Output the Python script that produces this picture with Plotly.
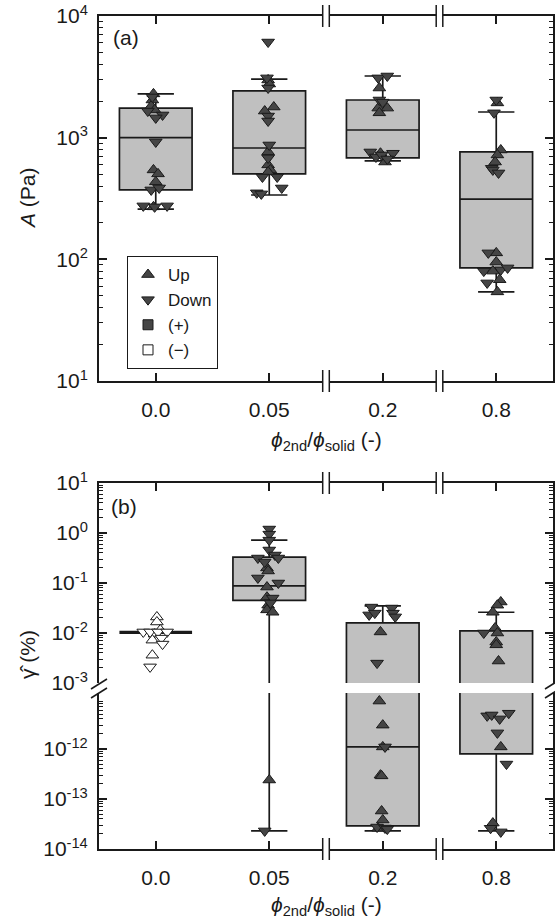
import plotly.graph_objects as go

# ---------------- data ----------------
CATS = ["0.0", "0.05", "0.2", "0.8"]
CAT_POS = [0, 1, 2, 3]

# panel (a): box statistics, A (Pa)
A_LO = [259, 338, 644, 54]
A_Q1 = [372, 504, 681, 85]
A_MED = [1000, 822, 1156, 313]
A_Q3 = [1750, 2420, 2040, 763]
A_HI = [2290, 3030, 3213, 1626]

# panel (a) points
A_UP_CAT = [0]*8 + [1]*8 + [2]*6 + [3]*9
A_UP_VAL = [2290, 2040, 1820, 1690, 543, 504, 433, 270,
            2980, 2760, 1786, 1655, 764, 597, 543, 522,
            2560, 1750, 1750, 1600, 745, 631,
            1930, 792, 721, 631, 113, 95, 80, 68, 54]
A_UP_DX = [-0.02, -0.03, -0.04, -0.01, -0.02, 0.02, 0.0, -0.02,
           -0.01, 0.0, 0.04, -0.04, -0.01, -0.01, 0.01, -0.01,
           -0.03, -0.04, 0.04, -0.03, -0.02, 0.02,
           0.01, 0.04, 0.01, -0.01, 0.0, 0.0, -0.03, 0.03, 0.01]

A_DN_CAT = [0]*10 + [1]*12 + [2]*9 + [3]*10
A_DN_VAL = [2160, 1655, 1537, 1453, 922, 372, 386, 275, 270, 275,
            6110, 3100, 2560, 1506, 1371, 871, 681, 475, 475, 386, 352, 345,
            3100, 3213, 2040, 1960, 763, 745, 694, 721, 668,
            2040, 1600, 560, 543, 513, 113, 80, 82, 85, 64]
A_DN_DX = [-0.03, -0.07, 0.06, 0.0, 0.0, -0.04, 0.03, -0.11, -0.01, 0.10,
           -0.01, -0.02, -0.01, -0.01, -0.01, 0.0, -0.01, -0.06, 0.07, 0.11, -0.11, -0.07,
           -0.04, 0.04, -0.03, 0.0, -0.11, 0.09, -0.06, -0.01, 0.04,
           0.0, -0.02, -0.04, -0.03, 0.02, -0.07, -0.11, 0.04, 0.10, -0.08]

# panel (b): box statistics, gamma-hat (%)
B_LO = [0.0103, 2.3e-14, 2.3e-14, 2.3e-14]
B_Q1 = [0.0103, 0.045, 2.9e-14, 8e-13]
B_MED = [0.0103, 0.088, 1.1e-12, 1e-6]
B_Q3 = [0.0103, 0.33, 0.016, 0.011]
B_HI = [0.0103, 0.72, 0.035, 0.026]

# panel (b) open points (category 0.0, sign (-))
B_UP_OPEN_VAL = [0.0209, 0.0166, 0.0095, 0.0115, 0.0072, 0.0036]
B_UP_OPEN_DX = [0.01, 0.01, -0.01, 0.04, -0.03, -0.03]
B_DN_OPEN_VAL = [0.0105, 0.0105, 0.0105, 0.0105, 0.0079, 0.0060, 0.0021]
B_DN_OPEN_DX = [-0.11, -0.05, 0.02, 0.10, 0.05, 0.06, -0.05]

# panel (b) filled points
B_UP_CAT = [1]*8 + [2]*9 + [3]*10
B_UP_VAL = [0.2, 0.174, 0.083, 0.052, 0.036, 0.029, 0.026, 2.4e-13,
            0.0105, 9.1e-12, 3.0e-12, 1.1e-12, 3.0e-13, 2.9e-13, 5.75e-14, 3.8e-14, 2.6e-14,
            0.0417, 0.036, 0.026, 0.0126, 0.010, 0.0066, 0.0058, 0.00275, 1.1e-12, 3.3e-14]
B_UP_DX = [-0.02, -0.01, -0.02, -0.02, -0.01, -0.02, 0.03, 0.0,
           -0.02, -0.03, 0.0, 0.0, -0.02, -0.01, -0.01, 0.0, -0.04,
           0.04, 0.01, -0.03, -0.01, 0.01, 0.0, 0.0, 0.02, 0.04, -0.03]

B_DN_CAT = [1]*13 + [2]*11 + [3]*9
B_DN_VAL = [1.2, 0.95, 0.72, 0.457, 0.316, 0.363, 0.316, 0.263, 0.126, 0.10, 0.05, 0.04, 2.3e-14,
            0.033, 0.023, 0.025, 0.0316, 0.025, 0.021, 0.0025, 1.1e-12, 2.75e-14, 2.63e-14, 2.5e-14,
            0.010, 4.6e-12, 4.8e-12, 4.0e-12, 5.2e-12, 2.1e-12, 5e-13, 2.6e-14, 2.2e-14]
B_DN_DX = [0.0, 0.0, 0.0, 0.0, -0.10, 0.05, 0.08, -0.04, -0.10, 0.08, 0.03, 0.01, -0.04,
           -0.10, -0.12, -0.07, 0.08, 0.09, 0.11, -0.05, 0.02, -0.05, 0.02, 0.04,
           -0.11, -0.08, -0.04, 0.03, 0.11, 0.01, 0.09, -0.05, 0.04]

# ---------------- styling ----------------
FONT = "Liberation Sans, Arial, sans-serif"
INK = "#1a1a1a"
MARK_FILL = "#454545"
BOX_FILL = "#c0c0c0"
MSIZE = 11

# figure geometry (pixels)
W, H = 555, 922
ML, MR, MT, MB = 99, 2, 16, 73
PW, PH = W - ML - MR, H - MT - MB


def px_x(x):
    return (x - ML) / PW


def px_y(y):
    return (H - MB - y) / PH


fig = go.Figure()


def add_box(xa, ya, idx, lo, q1, med, q3, hi, lw=1.7):
    fig.add_trace(go.Box(
        x=[CAT_POS[i] for i in idx], q1=[q1[i] for i in idx], median=[med[i] for i in idx],
        q3=[q3[i] for i in idx], lowerfence=[lo[i] for i in idx],
        upperfence=[hi[i] for i in idx],
        xaxis=xa, yaxis=ya, width=0.64, whiskerwidth=0.5,
        fillcolor=BOX_FILL, line=dict(color=INK, width=lw),
        boxpoints=False, showlegend=False, hoverinfo="skip"))


def add_pts(cats, vals, dxs, symbol, fill, xa, ya, name=None, legend=False):
    fig.add_trace(go.Scatter(
        x=[c + d for c, d in zip(cats, dxs)], y=vals, mode="markers",
        xaxis=xa, yaxis=ya, name=name, showlegend=legend,
        marker=dict(symbol=symbol, size=MSIZE, color=fill,
                    line=dict(color=INK, width=1)),
        hoverinfo="skip"))


# panel (a)
add_box("x", "y", [0, 1, 2, 3], A_LO, A_Q1, A_MED, A_Q3, A_HI)
add_pts(A_UP_CAT, A_UP_VAL, A_UP_DX, "triangle-up", MARK_FILL, "x", "y", "Up", True)
add_pts(A_DN_CAT, A_DN_VAL, A_DN_DX, "triangle-down", MARK_FILL, "x", "y", "Down", True)

# legend-only entries
fig.add_trace(go.Scatter(x=[None], y=[None], mode="markers", name="(+)",
                         marker=dict(symbol="square", size=MSIZE - 1, color=MARK_FILL,
                                     line=dict(color=INK, width=1)),
                         xaxis="x", yaxis="y"))
fig.add_trace(go.Scatter(x=[None], y=[None], mode="markers", name="(\u2212)",
                         marker=dict(symbol="square", size=MSIZE - 1, color="white",
                                     line=dict(color=INK, width=1)),
                         xaxis="x", yaxis="y"))

# panel (b): upper (x3,y2) and lower (x2,y3) segments
for xa, ya in (("x3", "y2"), ("x2", "y3")):
    add_box(xa, ya, [0], B_LO, B_Q1, B_MED, B_Q3, B_HI, lw=3.2)
    add_box(xa, ya, [1, 2, 3], B_LO, B_Q1, B_MED, B_Q3, B_HI)

SPLIT = 1e-6


def split_add(cats, vals, dxs, symbol, fill):
    up = [(c, v, d) for c, v, d in zip(cats, vals, dxs) if v >= SPLIT]
    lo = [(c, v, d) for c, v, d in zip(cats, vals, dxs) if v < SPLIT]
    for grp, xa, ya in ((up, "x3", "y2"), (lo, "x2", "y3")):
        if grp:
            add_pts([g[0] for g in grp], [g[1] for g in grp], [g[2] for g in grp],
                    symbol, fill, xa, ya)


split_add([0]*len(B_UP_OPEN_VAL), B_UP_OPEN_VAL, B_UP_OPEN_DX, "triangle-up", "white")
split_add([0]*len(B_DN_OPEN_VAL), B_DN_OPEN_VAL, B_DN_OPEN_DX, "triangle-down", "white")
split_add(B_UP_CAT, B_UP_VAL, B_UP_DX, "triangle-up", MARK_FILL)
split_add(B_DN_CAT, B_DN_VAL, B_DN_DX, "triangle-down", MARK_FILL)


# ---------------- axes ----------------
def minor_vals(e0, e1):
    out = []
    for e in range(e0, e1 + 1):
        for k in range(2, 10):
            out.append(k * 10.0 ** e)
    return out


def log_text(e):
    return "10<sup>%s</sup>" % (str(e) if e >= 0 else "-" + str(-e))


xcommon = dict(range=[-0.5, 3.5], tickmode="array", tickvals=CAT_POS, ticktext=CATS,
               ticks="inside", ticklen=8, tickwidth=1.5, tickcolor=INK,
               showline=True, linecolor=INK, linewidth=2, showgrid=False,
               zeroline=False, tickfont=dict(size=21, color=INK), ticklabelstandoff=9)


def ycommon(exps, rng, domain, anchor):
    return dict(type="log", range=rng, domain=domain, anchor=anchor,
                tickmode="array", tickvals=[10.0 ** e for e in exps],
                ticktext=[log_text(e) for e in exps],
                ticks="inside", ticklen=8, tickwidth=1.5, tickcolor=INK,
                showline=True, linecolor=INK, linewidth=2, mirror="ticks",
                showgrid=False, zeroline=False,
                tickfont=dict(size=21, color=INK), ticklabelstandoff=5,
                minor=dict(tickmode="array", tickvals=minor_vals(min(exps) - 1, max(exps)),
                           ticks="inside", ticklen=4, tickwidth=1, tickcolor=INK,
                           showgrid=False))


Y_LOW_TOP = -14 + (849 - 693) / 50.0

fig.update_layout(
    width=W, height=H,
    margin=dict(l=ML, r=MR, t=MT, b=MB, autoexpand=False),
    plot_bgcolor="white", paper_bgcolor="white",
    font=dict(family=FONT, size=21, color=INK),
    xaxis=dict(xcommon, anchor="y", domain=[0, 1], mirror="ticks"),
    xaxis2=dict(xcommon, anchor="y3", domain=[0, 1]),
    xaxis3=dict(xcommon, anchor="y2", domain=[0, 1], side="top", showticklabels=False),
    yaxis=ycommon([1, 2, 3, 4], [1, 4], [px_y(381), 1], "x"),
    yaxis2=ycommon([-3, -2, -1, 0, 1], [-3, 1], [px_y(683), px_y(483)], "x3"),
    yaxis3=ycommon([-14, -13, -12], [-14, Y_LOW_TOP], [0, px_y(693)], "x2"),
    legend=dict(x=px_x(127), y=px_y(256), xanchor="left", yanchor="top",
                bgcolor="white", bordercolor=INK, borderwidth=1,
                font=dict(size=17, color=INK), tracegroupgap=0),
)

# ---------------- axis breaks ----------------
shapes = []
for ycenter in (16, 381, 483, 849):
    for xc in (1.5, 2.5):
        xpx = ML + (xc + 0.5) * PW / 4.0
        shapes.append(dict(type="rect", xref="paper", yref="paper",
                           x0=px_x(xpx - 3.3), x1=px_x(xpx + 3.3),
                           y0=px_y(ycenter + 2.5), y1=px_y(ycenter - 2.5),
                           fillcolor="white", line=dict(width=0), layer="above"))
        for dx in (-3.3, 3.3):
            shapes.append(dict(type="line", xref="paper", yref="paper",
                               x0=px_x(xpx + dx), x1=px_x(xpx + dx),
                               y0=px_y(ycenter + 11), y1=px_y(ycenter - 11),
                               line=dict(color=INK, width=1.5), layer="above"))
for xs in (ML, W - MR):
    for yb in (684, 693):
        shapes.append(dict(type="line", xref="paper", yref="paper",
                           x0=px_x(xs - 8), x1=px_x(xs + 8),
                           y0=px_y(yb + 5), y1=px_y(yb - 5),
                           line=dict(color=INK, width=1.5), layer="above"))
fig.update_layout(shapes=shapes)

# ---------------- annotations ----------------
ann = []
ann.append(dict(text="(a)", x=px_x(111), y=px_y(37), xanchor="left", yanchor="middle"))
ann.append(dict(text="(b)", x=px_x(109), y=px_y(506), xanchor="left", yanchor="middle"))
xtitle = "<i>\u03d5</i><sub>2nd</sub>/<i>\u03d5</i><sub>solid</sub> (-)"
ann.append(dict(text=xtitle, x=px_x(326), y=px_y(441), xanchor="center", yanchor="middle"))
ann.append(dict(text=xtitle, x=px_x(326), y=px_y(906), xanchor="center", yanchor="middle"))
ann.append(dict(text="<i>A</i> (Pa)", x=px_x(27), y=px_y(198), xanchor="center",
                yanchor="middle", textangle=-90))
ann.append(dict(text="\u03b3\u0302 (%)", x=px_x(27), y=px_y(655), xanchor="center",
                yanchor="middle", textangle=-90))
for a in ann:
    a.update(xref="paper", yref="paper", showarrow=False, font=dict(size=21, color=INK))
fig.update_layout(annotations=ann)

fig.write_html("out.html")
